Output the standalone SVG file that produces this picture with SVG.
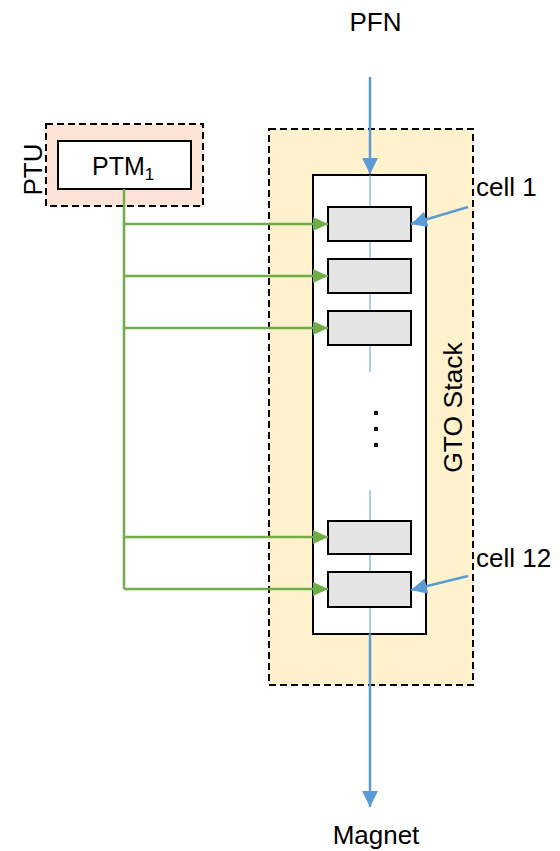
<svg xmlns="http://www.w3.org/2000/svg" width="560" height="851" viewBox="0 0 560 851">
<style>
text{font-family:"Liberation Sans",Arial,sans-serif;font-size:26px;fill:#000}
.dash{stroke:#000;stroke-width:2;stroke-dasharray:7,4}
.box{fill:#fff;stroke:#000;stroke-width:2}
.cell{fill:#e5e5e5;stroke:#000;stroke-width:2}
.g{stroke:#70ad47;stroke-width:2.5;fill:none}
.b{stroke:#5b9bd5;stroke-width:2.5;fill:none}
.bt{stroke:#5b9bd5;stroke-width:1;fill:none}
</style>
<defs>
<marker id="ag" markerUnits="userSpaceOnUse" markerWidth="16" markerHeight="14" refX="15" refY="7" orient="auto"><path d="M0,0 L15,7 L0,14 z" fill="#70ad47"/></marker>
<marker id="ab" markerUnits="userSpaceOnUse" markerWidth="17" markerHeight="16" refX="16" refY="8" orient="auto"><path d="M0,0 L16,8 L0,16 z" fill="#5b9bd5"/></marker>
</defs>
<g id="ptu">
<rect x="46" y="124" width="157" height="82" fill="#fbe3d6" class="dash"/>
<text transform="translate(42,169.5) rotate(-90)" text-anchor="middle">PTU</text>
</g>
<g id="ptm1">
<rect x="58" y="141" width="133" height="48" class="box"/>
<text x="92" y="175" style="font-size:25px">PTM<tspan style="font-size:17px" dy="5">1</tspan></text>
</g>
<g id="gto-stack">
<rect x="269" y="129" width="204" height="556" fill="#fff2cc" class="dash"/>
<rect x="313" y="175" width="113" height="459" class="box"/>
<text transform="translate(462,407.5) rotate(-90)" text-anchor="middle" style="font-size:26.5px">GTO Stack</text>
<line x1="370" y1="175" x2="370" y2="372" class="bt"/>
<line x1="370" y1="490" x2="370" y2="634" class="bt"/>
<rect x="374" y="411" width="4" height="4" fill="#000"/>
<rect x="374" y="427" width="4" height="4" fill="#000"/>
<rect x="374" y="443" width="4" height="4" fill="#000"/>
</g>
<g id="cell1"><rect x="328" y="207" width="83" height="34" class="cell"/></g>
<g id="cell2"><rect x="328" y="259" width="83" height="34" class="cell"/></g>
<g id="cell3"><rect x="328" y="311" width="83" height="34" class="cell"/></g>
<g id="cell11"><rect x="328" y="521" width="83" height="33" class="cell"/></g>
<g id="cell12"><rect x="328" y="572" width="83" height="35" class="cell"/></g>
<g id="labels">
<text x="375.5" y="31" text-anchor="middle">PFN</text>
<text x="376" y="844" text-anchor="middle">Magnet</text>
<text x="476" y="196">cell 1</text>
<text x="476" y="567">cell 12</text>
</g>
<g id="connectors">
<polyline points="124,189 124,589" class="g"/>
<line x1="124" y1="224" x2="328" y2="224" class="g" marker-end="url(#ag)"/>
<line x1="124" y1="276" x2="328" y2="276" class="g" marker-end="url(#ag)"/>
<line x1="124" y1="328" x2="328" y2="328" class="g" marker-end="url(#ag)"/>
<line x1="124" y1="537" x2="328" y2="537" class="g" marker-end="url(#ag)"/>
<line x1="124" y1="589" x2="328" y2="589" class="g" marker-end="url(#ag)"/>
<line x1="370" y1="77" x2="370" y2="174" class="b" marker-end="url(#ab)"/>
<line x1="370" y1="634" x2="370" y2="807" class="b" marker-end="url(#ab)"/>
<line x1="468" y1="207" x2="411" y2="224" class="b" marker-end="url(#ab)"/>
<line x1="468" y1="576" x2="411" y2="590" class="b" marker-end="url(#ab)"/>
</g>
</svg>
